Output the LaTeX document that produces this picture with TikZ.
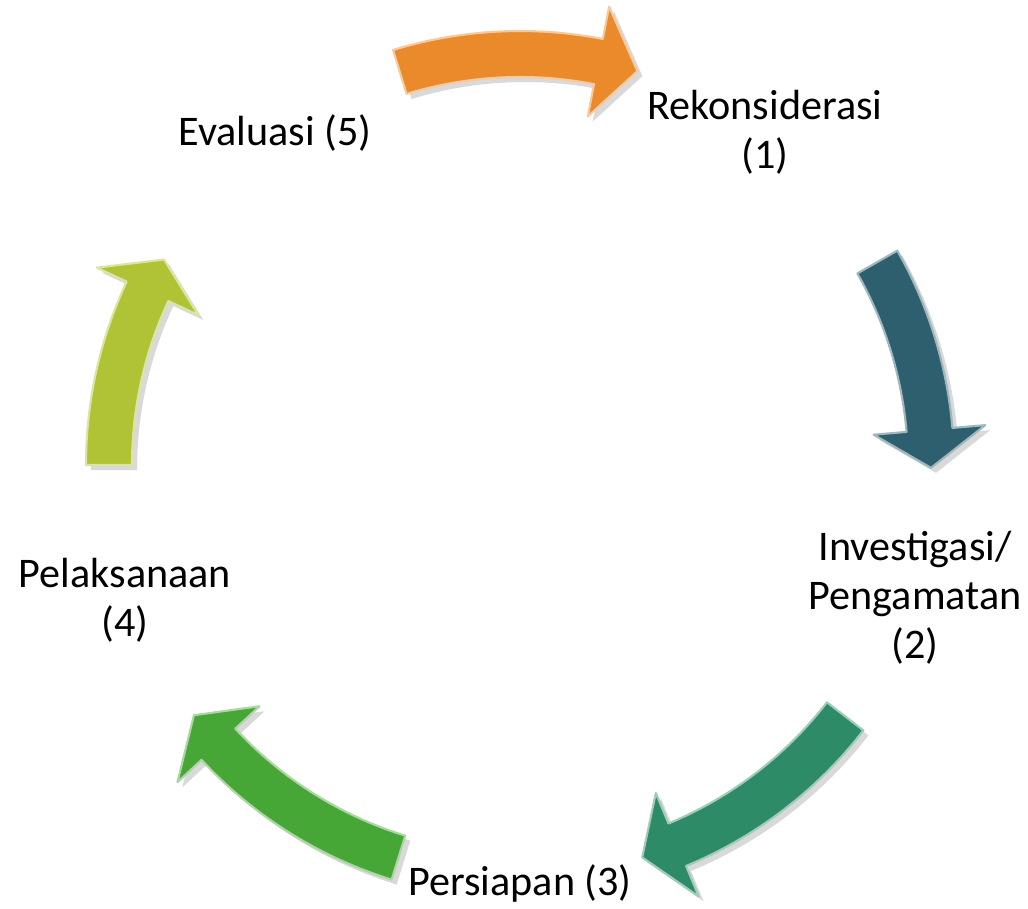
\documentclass[tikz,border=0pt]{standalone}
\usepackage{fontspec}
\setmainfont{Carlito}
\usetikzlibrary{shadows}

\definecolor{rekcol}{RGB}{234,138,42}
\definecolor{invcol}{RGB}{46,95,111}
\definecolor{percol}{RGB}{46,139,103}
\definecolor{pelcol}{RGB}{70,166,54}
\definecolor{evacol}{RGB}{176,195,52}

\begin{document}
\begin{tikzpicture}
      [line join=round,
      stage/.style={align=center, inner sep=0pt,
        font=\fontsize{12}{13.9}\selectfont},
      cyclearrow/.style={fill=#1, draw=#1!45!white, line width=0.6pt,
        drop shadow={shadow xshift=0.05cm, shadow yshift=-0.05cm, opacity=0.3}}]

      \useasboundingbox (-5.20,-4.43) rectangle (5.08,4.65);

      % labels
      \node [stage] (R) at (2.45,3.33)   {Rekonsiderasi\\(1)};
      \node [stage] (I) at (3.95,-1.33)  {Investigasi/\\Pengamatan\\(2)};
      \node [stage] (P) at (0.00,-4.18)  {Persiapan (3)};
      \node [stage] (L) at (-3.95,-1.35) {Pelaksanaan\\(4)};
      \node [stage] (E) at (-2.45,3.32)  {Evaluasi (5)};

      % curved arrows round the cycle
      \path [cyclearrow=rekcol] (107:4.34) arc [start angle=107, end angle=79, radius=4.34]
        -- (79:4.67) -- (73.4:4.11) -- (79:3.55) -- (79:3.88) arc [start angle=79, end angle=107, radius=3.88] -- cycle;
      \path [cyclearrow=invcol] (29.6:4.34) arc [start angle=29.6, end angle=4.9, radius=4.34]
        -- (4.9:4.67) -- (-0.4:4.11) -- (4.9:3.55) -- (4.9:3.88) arc [start angle=4.9, end angle=29.6, radius=3.88] -- cycle;
      \path [cyclearrow=percol] (-37.7:4.34) arc [start angle=-37.7, end angle=-67.5, radius=4.34]
        -- (-67.5:4.67) -- (-72.7:4.11) -- (-67.5:3.55) -- (-67.5:3.88) arc [start angle=-67.5, end angle=-37.7, radius=3.88] -- cycle;
      \path [cyclearrow=pelcol] (-107.2:4.34) arc [start angle=-107.2, end angle=-137.2, radius=4.34]
        -- (-137.2:4.67) -- (-142.5:4.11) -- (-137.2:3.55) -- (-137.2:3.88) arc [start angle=-137.2, end angle=-107.2, radius=3.88] -- cycle;
      \path [cyclearrow=evacol] (180:4.34) arc [start angle=180, end angle=155, radius=4.34]
        -- (155:4.67) -- (150:4.11) -- (155:3.55) -- (155:3.88) arc [start angle=155, end angle=180, radius=3.88] -- cycle;
    \end{tikzpicture}
\end{document}
